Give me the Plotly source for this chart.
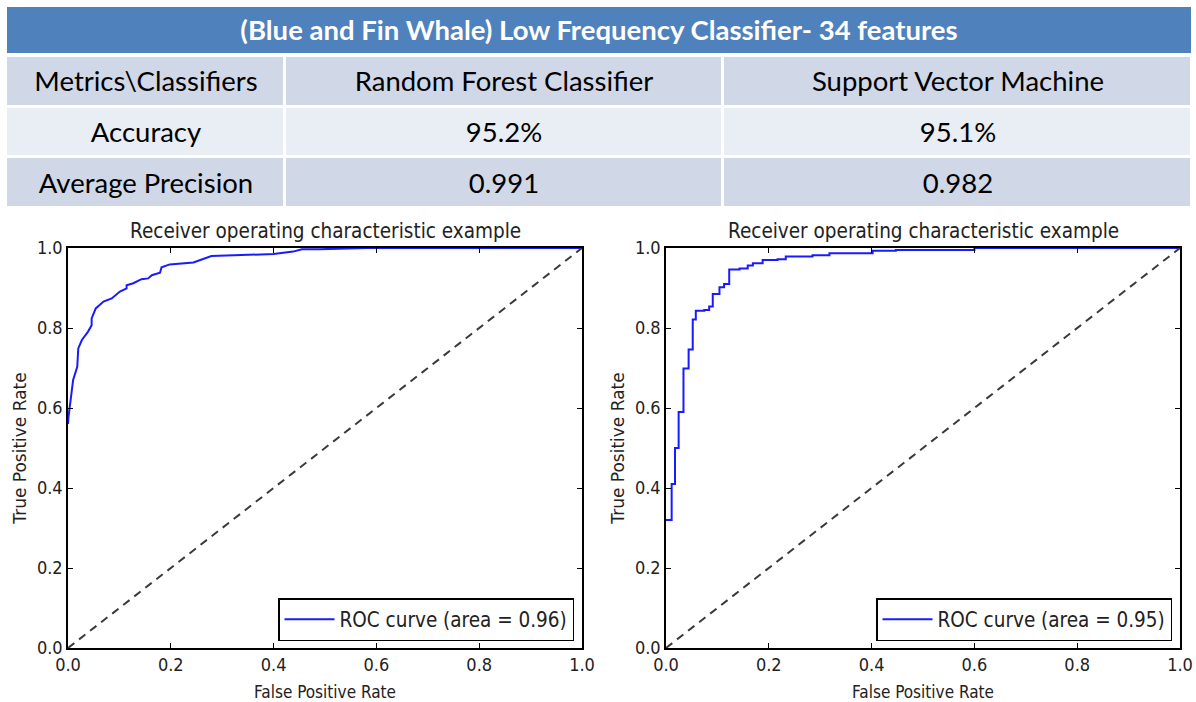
import plotly.graph_objects as go

# ---- summary table --------------------------------------------------------
TITLE = "(Blue and Fin Whale) Low Frequency Classifier- 34 features"
header_cols = ["Metrics\\Classifiers", "Random Forest Classifier", "Support Vector Machine"]
metrics = ["Accuracy", "Average Precision"]
rf_scores = ["95.2%", "0.991"]
svm_scores = ["95.1%", "0.982"]
col_widths = [279, 437, 468]
row_shade = [1, 0, 1]          # 1 = darker band, 0 = lighter band

# ---- ROC curves -----------------------------------------------------------
rf_fpr = [0.0, 0.001, 0.010, 0.018, 0.020, 0.027, 0.039, 0.046, 0.046, 0.054, 0.069,
          0.085, 0.101, 0.114, 0.114, 0.127, 0.143, 0.156, 0.163, 0.179, 0.182, 0.198,
          0.244, 0.263, 0.279, 0.40, 0.438, 0.455, 0.49, 0.58, 1.0]
rf_tpr = [0.56, 0.578, 0.67, 0.703, 0.749, 0.77, 0.791, 0.807, 0.824, 0.849, 0.866,
          0.874, 0.891, 0.899, 0.907, 0.912, 0.922, 0.924, 0.932, 0.938, 0.952, 0.959,
          0.964, 0.972, 0.98, 0.985, 0.991, 0.997, 0.997, 1.0, 1.0]
rf_auc = 0.96

svm_fpr = [0.0, 0.011, 0.0175, 0.0246, 0.034, 0.044, 0.052, 0.058, 0.0745, 0.084,
           0.091, 0.104, 0.113, 0.123, 0.143, 0.159, 0.169, 0.188, 0.217, 0.233,
           0.285, 0.318, 0.402, 0.447, 0.60, 1.0]
svm_tpr = [0.32, 0.41, 0.50, 0.59, 0.699, 0.746, 0.821, 0.843, 0.845, 0.854,
           0.885, 0.902, 0.91, 0.946, 0.949, 0.956, 0.962, 0.97, 0.972, 0.979,
           0.982, 0.987, 0.993, 0.995, 1.0, 1.0]
svm_auc = 0.95

chance = [0.0, 1.0]
ticks = [0.0, 0.2, 0.4, 0.6, 0.8, 1.0]
tick_text = [f"{t:.1f}" for t in ticks]

W, H = 1196, 702


def px_x(v):
    return v / W


def px_y(v):
    return 1 - v / H


TABLE_FONT = "Lato, Calibri, 'Open Sans', sans-serif"
COND_FONT = "'DejaVu Sans Condensed', 'Liberation Sans Narrow', 'DejaVu Sans', sans-serif"
PLAIN_FONT = "'DejaVu Sans', sans-serif"
INK = "#222"
BLUE_BAND = "#4F81BD"
ROW_DARK = "#D0D8E8"
ROW_LIGHT = "#E9EDF4"

fig = go.Figure()

# ---- table drawn as heatmap bricks with white gaps ------------------------
col_edges = [0]
for w in col_widths:
    col_edges.append(col_edges[-1] + w)
table_text = [header_cols] + [[m, r, s] for m, r, s in zip(metrics, rf_scores, svm_scores)]
table_z = [[shade] * len(header_cols) for shade in row_shade]

fig.add_trace(go.Heatmap(
    z=[[0]], x=[col_edges[0], col_edges[-1]], y=[0, 1],
    text=[[f"<b>{TITLE}</b>"]], texttemplate="%{text}",
    textfont=dict(family=TABLE_FONT, size=27.5, color="white"),
    colorscale=[[0, BLUE_BAND], [1, BLUE_BAND]], showscale=False,
    xgap=2, ygap=2, hoverinfo="skip", xaxis="x4", yaxis="y4",
))

fig.add_trace(go.Heatmap(
    z=table_z, x=col_edges, y=list(range(len(table_text) + 1)),
    text=table_text, texttemplate="%{text}",
    textfont=dict(family=TABLE_FONT, size=27.5, color="black"),
    colorscale=[[0, ROW_LIGHT], [1, ROW_DARK]], zmin=0, zmax=1, showscale=False,
    xgap=3, ygap=3, hoverinfo="skip", xaxis="x3", yaxis="y3",
))

# ---- ROC panels -----------------------------------------------------------
panels = [
    ("x", "y", "legend", rf_fpr, rf_tpr, rf_auc, "linear"),
    ("x2", "y2", "legend2", svm_fpr, svm_tpr, svm_auc, "hv"),
]
for xa, ya, lg, fpr, tpr, auc, shape in panels:
    fig.add_trace(go.Scatter(
        x=fpr, y=tpr, mode="lines", xaxis=xa, yaxis=ya, legend=lg,
        line=dict(color="#1a1aff", width=2, shape=shape),
        name=f"ROC curve (area = {auc:.2f})", showlegend=True,
    ))
    fig.add_trace(go.Scatter(
        x=chance, y=chance, mode="lines", xaxis=xa, yaxis=ya,
        line=dict(color="#3a3a3a", width=2, dash="8px,6px"), showlegend=False,
    ))


def axis(domain, title, anchor, title_font, standoff):
    return dict(
        domain=domain, range=[0, 1], anchor=anchor, automargin=False,
        showline=True, linecolor="black", linewidth=1.5, mirror="ticks",
        ticks="inside", ticklen=5, tickwidth=1, tickcolor="black",
        tickvals=ticks, ticktext=tick_text, showgrid=False, zeroline=False,
        tickfont=dict(family=COND_FONT, size=18, color=INK),
        title=dict(text=title, font=dict(family=title_font, size=17, color=INK),
                   standoff=standoff),
    )


def hidden_axis(domain, rng):
    return dict(domain=domain, range=rng, visible=False, fixedrange=True)


xdom_l = [px_x(68), px_x(582)]
xdom_r = [px_x(666), px_x(1180)]
ydom = [px_y(648), px_y(248)]
table_xdom = [px_x(6), px_x(1192)]

legend_style = dict(
    bgcolor="white", bordercolor="black", borderwidth=1.5,
    font=dict(family=COND_FONT, size=20.5, color=INK),
    xanchor="right", yanchor="bottom", itemwidth=50,
)

fig.update_layout(
    width=W, height=H, margin=dict(l=0, r=0, t=0, b=0, autoexpand=False),
    paper_bgcolor="white", plot_bgcolor="white",
    xaxis=axis(xdom_l, "False Positive Rate", "y", COND_FONT, 13),
    yaxis=axis(ydom, "True Positive Rate", "x", PLAIN_FONT, 6),
    xaxis2=axis(xdom_r, "False Positive Rate", "y2", COND_FONT, 13),
    yaxis2=axis(ydom, "True Positive Rate", "x2", PLAIN_FONT, 6),
    xaxis3=hidden_axis(table_xdom, [col_edges[0], col_edges[-1]]),
    yaxis3=hidden_axis([px_y(208), px_y(56)], [len(table_text), 0]),
    xaxis4=hidden_axis(table_xdom, [col_edges[0], col_edges[-1]]),
    yaxis4=hidden_axis([px_y(54), px_y(6)], [1, 0]),
    legend=dict(x=px_x(574), y=px_y(641), **legend_style),
    legend2=dict(x=px_x(1172), y=px_y(641), **legend_style),
    annotations=[
        dict(text="Receiver operating characteristic example", xref="paper", yref="paper",
             x=(xdom[0] + xdom[1]) / 2, y=px_y(231), xanchor="center", yanchor="middle",
             showarrow=False, font=dict(family=COND_FONT, size=20.5, color=INK))
        for xdom in (xdom_l, xdom_r)
    ],
)

fig.write_html("out.html")
